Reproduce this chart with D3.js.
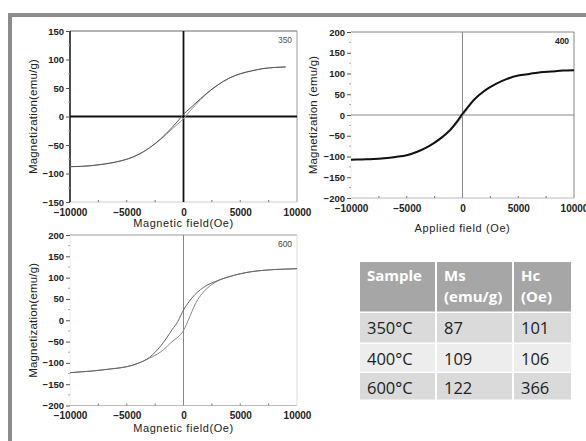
<!DOCTYPE html>
<html>
<head>
<meta charset="utf-8">
<script src="https://cdn.jsdelivr.net/npm/d3@7"></script>
<style>
  html, body { margin: 0; padding: 0; background: #fff; }
  svg { display: block; font-family: "Liberation Sans", Arial, sans-serif; }
</style>
</head>
<body>
<div id="chart"></div>
<script>
/* ---- Data ---- */
var field350 = [-10000, -9000, -8000, -7000, -6000, -5000, -4000, -3000, -2000, -1000, -500, 0, 500, 1000, 2000, 3000, 4000, 5000, 6000, 7000, 8000, 9000];
var m350Down = [-88, -87.5, -86, -83.5, -80, -75, -67, -55, -39, -19, -8, 4, 13, 22, 40, 55, 67, 75, 80, 84, 86, 87];
var m350Up   = [-88, -87.5, -86, -83.5, -80, -75, -67, -55, -40, -22, -13, -4, 8, 19, 39, 55, 67, 75, 80, 84, 86, 87];

var field400 = [-10000, -9000, -8000, -7000, -6000, -5000, -4000, -3000, -2000, -1000, -500, 0, 500, 1000, 2000, 3000, 4000, 5000, 6000, 7000, 8000, 9000, 10000];
var m400Down = [-108, -107, -106, -104, -101, -97, -88, -75, -57, -33, -16, 3, 20, 36, 59, 75, 87, 95, 99, 103, 105, 107, 108];
var m400Up   = [-108, -107, -106, -104, -101, -97, -87, -75, -59, -36, -20, -3, 16, 33, 57, 75, 88, 95, 99, 103, 105, 107, 108];

var field600 = [-10000, -9000, -8000, -7000, -6000, -5000, -4000, -3000, -2000, -1500, -1000, -500, 0, 500, 1000, 1500, 2000, 3000, 4000, 5000, 6000, 7000, 8000, 9000, 10000];
var m600Down = [-123, -121, -119, -116, -113, -109, -101, -87, -60, -42, -22, -3, 24, 44, 60, 72, 81, 93, 102, 109, 114, 117, 119, 120, 121];
var m600Up   = [-123, -121, -119, -116, -113, -109, -101, -89, -74, -63, -50, -40, -24, 5, 36, 58, 73, 92, 102, 109, 114, 117, 119, 120, 121];

var xTicks = [-10000, -5000, 0, 5000, 10000];
var yTicks150 = [-150, -100, -50, 0, 50, 100, 150];
var yTicks200 = [-200, -150, -100, -50, 0, 50, 100, 150, 200];

var tableHead = [["Sample"], ["Ms", "(emu/g)"], ["Hc", "(Oe)"]];
var samples = ["350°C", "400°C", "600°C"];
var msValues = [87, 109, 122];
var hcValues = [101, 106, 366];

/* ---- Canvas ---- */
var W = 586, H = 441;
var svg = d3.select("#chart").append("svg").attr("width", W).attr("height", H);
svg.append("rect").attr("width", W).attr("height", H).attr("fill", "#fff");

// grey frame (top + left only, rest is cut off)
svg.append("rect").attr("x", 8).attr("y", 13).attr("width", W - 8).attr("height", 4).attr("fill", "#8c8c8c");
svg.append("rect").attr("x", 8).attr("y", 13).attr("width", 4).attr("height", H - 13).attr("fill", "#8c8c8c");

/* ---- Panel ---- */
function drawPanel(p) {
  var x = d3.scaleLinear().domain([-10000, 10000]).range([p.x0, p.x1]);
  var y = d3.scaleLinear().domain(p.yDomain).range([p.y1, p.y0]);
  var g = svg.append("g");

  // box
  g.append("line").attr("x1", p.x0).attr("x2", p.x1).attr("y1", p.y0).attr("y2", p.y0)
    .attr("stroke", p.topColor).attr("stroke-width", p.topWidth);
  g.append("line").attr("x1", p.x1).attr("x2", p.x1).attr("y1", p.y0).attr("y2", p.y1)
    .attr("stroke", p.rightColor).attr("stroke-width", 1);
  g.append("line").attr("x1", p.x0).attr("x2", p.x1).attr("y1", p.y1).attr("y2", p.y1)
    .attr("stroke", p.bottomColor).attr("stroke-width", 1);
  g.append("line").attr("x1", p.x0).attr("x2", p.x0).attr("y1", p.y0).attr("y2", p.y1)
    .attr("stroke", p.leftColor).attr("stroke-width", p.leftWidth);

  // zero lines
  g.append("line").attr("x1", x(0)).attr("x2", x(0)).attr("y1", p.y0).attr("y2", p.y1)
    .attr("stroke", p.zeroColor).attr("stroke-width", p.zeroWidth);
  if (p.hZero) {
    g.append("line").attr("x1", p.x0).attr("x2", p.x1).attr("y1", y(0)).attr("y2", y(0))
      .attr("stroke", p.zeroColor).attr("stroke-width", p.zeroWidth);
  }

  // y axis
  var yAxis = d3.axisLeft(y).tickValues(p.yTicks).tickSize(4).tickPadding(2).tickFormat(d3.format("d"));
  var ya = g.append("g").attr("transform", "translate(" + p.x0 + ",0)").call(yAxis);
  ya.select(".domain").remove();
  ya.selectAll("line").attr("stroke", "#555");
  ya.selectAll("text").attr("font-size", 9.5).attr("font-weight", "bold").attr("fill", "#222");

  // minor y ticks (small dots)
  var minorY = p.yTicks.slice(0, -1).map(function (v) { return v + (p.yTicks[1] - p.yTicks[0]) / 2; });
  g.selectAll(".my").data(minorY).join("line")
    .attr("x1", p.x0 - 2).attr("x2", p.x0).attr("y1", function (d) { return y(d); }).attr("y2", function (d) { return y(d); })
    .attr("stroke", "#aaa");

  // x axis
  var xAxis = d3.axisBottom(x).tickValues(xTicks).tickSize(0).tickPadding(p.xPad).tickFormat(d3.format("d"));
  var xa = g.append("g").attr("transform", "translate(0," + p.y1 + ")").call(xAxis);
  xa.select(".domain").remove();
  xa.selectAll("text").attr("font-size", 10).attr("font-weight", "bold").attr("fill", "#222");
  var minorX = [-7500, -5000, -2500, 2500, 5000, 7500];
  g.selectAll(".mx").data(minorX).join("line")
    .attr("x1", function (d) { return x(d); }).attr("x2", function (d) { return x(d); })
    .attr("y1", p.y1).attr("y2", p.y1 - 2).attr("stroke", "#777");

  // curves
  var line = d3.line().curve(d3.curveMonotoneX)
    .x(function (d) { return x(d[0]); }).y(function (d) { return y(d[1]); });
  [p.up, p.down].forEach(function (m, i) {
    g.append("path")
      .attr("d", line(d3.zip(p.field, m)))
      .attr("fill", "none")
      .attr("stroke", i === 0 ? p.curveColor2 : p.curveColor)
      .attr("stroke-width", i === 0 ? p.curveWidth2 : p.curveWidth);
  });

  // sample label
  g.append("text").attr("x", p.x1 - 12).attr("y", p.y0 + 12).attr("text-anchor", "middle")
    .attr("font-size", 8.5).attr("font-weight", p.labelWeight).attr("fill", p.labelColor).text(p.label);

  // titles
  g.append("text").attr("x", x(0)).attr("y", p.xTitleY).attr("text-anchor", "middle")
    .attr("font-size", 11).attr("letter-spacing", 0.6).attr("fill", "#222").text(p.xTitle);
  g.append("text").attr("transform", "translate(" + p.yTitleX + "," + (p.y0 + p.y1) / 2 + ") rotate(-90)")
    .attr("text-anchor", "middle").attr("font-size", 11.5).attr("letter-spacing", 0.2).attr("fill", "#222").text(p.yTitle);
}

drawPanel({
  x0: 70, x1: 297, y0: 31, y1: 202, yDomain: [-150, 150], yTicks: yTicks150,
  field: field350, up: m350Up, down: m350Down,
  topColor: "#999", topWidth: 1.5, rightColor: "#999", bottomColor: "#ccc", leftColor: "#111", leftWidth: 1.5,
  zeroColor: "#111", zeroWidth: 1.8, hZero: true, xPad: 6.5,
  curveColor: "#555", curveColor2: "#999", curveWidth: 1, curveWidth2: 1,
  label: "350", labelWeight: "normal", labelColor: "#555",
  xTitle: "Magnetic field(Oe)", xTitleY: 227, yTitle: "Magnetization(emu/g)", yTitleX: 37
});

drawPanel({
  x0: 351, x1: 574, y0: 32, y1: 198, yDomain: [-200, 200], yTicks: yTicks200,
  field: field400, up: m400Up, down: m400Down,
  topColor: "#888", topWidth: 1, rightColor: "#888", bottomColor: "#bbb", leftColor: "#eee", leftWidth: 1,
  zeroColor: "#888", zeroWidth: 1, hZero: true, xPad: 6.5,
  curveColor: "#111", curveColor2: "#999", curveWidth: 2, curveWidth2: 1,
  label: "400", labelWeight: "bold", labelColor: "#222",
  xTitle: "Applied field (Oe)", xTitleY: 232, yTitle: "Magnetization (emu/g)", yTitleX: 317
});

drawPanel({
  x0: 70, x1: 297, y0: 235, y1: 405.5, yDomain: [-200, 200], yTicks: yTicks200,
  field: field600, up: m600Up, down: m600Down,
  topColor: "#bbb", topWidth: 1.5, rightColor: "#ddd", bottomColor: "#bbb", leftColor: "#eee", leftWidth: 1,
  zeroColor: "#888", zeroWidth: 1, hZero: false, xPad: 6.5,
  curveColor: "#666", curveColor2: "#888", curveWidth: 1, curveWidth2: 1,
  label: "600", labelWeight: "normal", labelColor: "#444",
  xTitle: "Magnetic field(Oe)", xTitleY: 432, yTitle: "Magnetization(emu/g)", yTitleX: 37
});

/* ---- Table ---- */
var colEdges = [360, 437, 514, 573];
var rowEdges = [262, 313, 344, 373, 401];
var rowFill = ["#a6a6a6", "#dadada", "#ededed", "#dadada"];
var tg = svg.append("g").attr("font-family", "'Open Sans', 'Noto Sans', sans-serif");

var rows = [tableHead].concat(samples.map(function (s, i) {
  return [[s], [String(msValues[i])], [String(hcValues[i])]];
}));

rows.forEach(function (row, r) {
  row.forEach(function (cell, c) {
    tg.append("rect")
      .attr("x", colEdges[c]).attr("y", rowEdges[r])
      .attr("width", colEdges[c + 1] - colEdges[c] - 2)
      .attr("height", rowEdges[r + 1] - rowEdges[r] - 1.5)
      .attr("fill", rowFill[r]);
    var t = tg.append("text")
      .attr("font-size", r === 0 ? 15 : 16.5)
      .attr("fill", r === 0 ? "#fff" : "#222")
      .attr("font-weight", r === 0 ? "bold" : "normal");
    cell.forEach(function (txt, k) {
      t.append("tspan").attr("x", colEdges[c] + 7)
        .attr("y", r === 0 ? rowEdges[r] + 19 + k * 21 : rowEdges[r] + 21)
        .text(txt);
    });
  });
});
</script>
</body>
</html>
